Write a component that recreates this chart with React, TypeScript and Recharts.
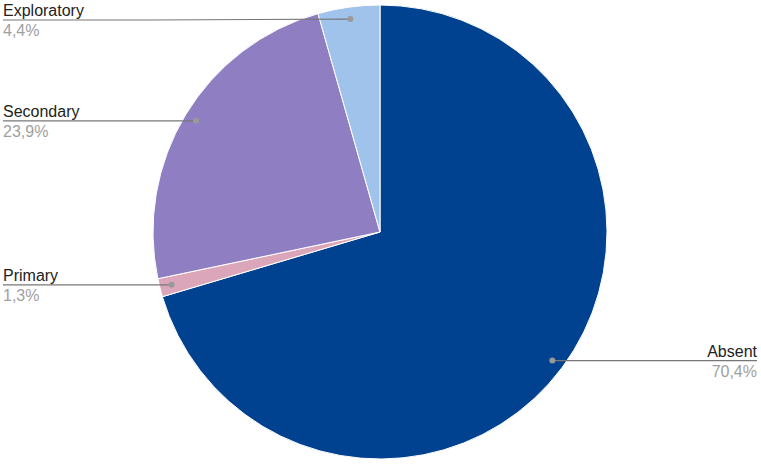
import { PieChart, Pie, Cell } from 'recharts'

const categories = ['Absent', 'Primary', 'Secondary', 'Exploratory']
const shares = [70.4, 1.3, 23.9, 4.4]
const colors = ['#00428f', '#dca6ba', '#8f7fc2', '#9fc3eb']

const data = categories.map((name, i) => ({ name, value: shares[i] }))

const W = 761
const H = 464
const RAD = Math.PI / 180

function renderLabel(props: any) {
  const { cx, cy, midAngle, outerRadius, index } = props
  const r = outerRadius - 12
  const dx = cx + r * Math.cos(-midAngle * RAD)
  const dy = cy + r * Math.sin(-midAngle * RAD)
  const right = dx > cx
  const lineY = Math.max(dy, 20)
  const edge = right ? W - 4 : 3
  let path = `M${dx},${dy} L${edge},${lineY}`
  if (lineY !== dy) path = `M${dx},${dy} L150,${lineY} L${edge},${lineY}`
  const pct = shares[index].toFixed(1).replace('.', ',') + '%'
  return (
    <g>
      <path d={path} stroke="#777" strokeWidth={1.2} fill="none" />
      <circle cx={dx} cy={dy} r={3} fill="#999" />
      <text x={edge} y={lineY - 4} textAnchor={right ? 'end' : 'start'} fill="#222" fontSize={16}>
        {categories[index]}
      </text>
      <text x={edge} y={lineY + 16} textAnchor={right ? 'end' : 'start'} fill="#a0a0a0" fontSize={16}>
        {pct}
      </text>
    </g>
  )
}

export default function App() {
  return (
    <div style={{ position: 'absolute', left: 0, top: 0, width: W, height: H, background: '#fff', fontFamily: '"Liberation Sans", Arial, sans-serif' }}>
      <PieChart width={W} height={H} margin={{ top: 0, right: 0, bottom: 0, left: 0 }}>
        <Pie
          data={data}
          dataKey="value"
          nameKey="name"
          cx={380}
          cy={232}
          outerRadius={227}
          startAngle={90}
          endAngle={-270}
          stroke="#fff"
          strokeWidth={1}
          label={renderLabel}
          labelLine={false}
          isAnimationActive={false}
        >
          {data.map((d, i) => (
            <Cell key={d.name} fill={colors[i]} />
          ))}
        </Pie>
      </PieChart>
    </div>
  )
}
